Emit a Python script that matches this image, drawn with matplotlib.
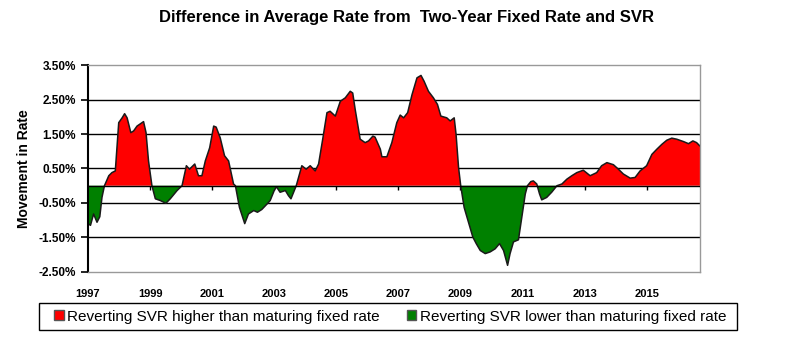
import numpy as np
import matplotlib
matplotlib.use("Agg")
import matplotlib.pyplot as plt
from matplotlib.patches import Patch, Rectangle

RED, GREEN = "#FF0000", "#008000"

# decimal year of each reading, and the difference in percentage points
years = [
    1997.00, 1997.08, 1997.18, 1997.29, 1997.38, 1997.45, 1997.53, 1997.67, 1997.77, 1997.88,
    1997.99, 1998.10, 1998.18, 1998.26, 1998.38, 1998.47, 1998.58, 1998.74, 1998.79, 1998.87,
    1998.95, 1999.06, 1999.17, 1999.33, 1999.51, 1999.65, 1999.87, 2000.03, 2000.17, 2000.27,
    2000.44, 2000.56, 2000.67, 2000.78, 2000.92, 2001.05, 2001.13, 2001.26, 2001.40, 2001.53,
    2001.69, 2001.75, 2001.88, 2002.05, 2002.17, 2002.34, 2002.46, 2002.60, 2002.77, 2002.87,
    2003.00, 2003.07, 2003.19, 2003.36, 2003.46, 2003.54, 2003.71, 2003.89, 2004.03, 2004.16,
    2004.32, 2004.43, 2004.57, 2004.70, 2004.80, 2004.97, 2005.13, 2005.29, 2005.45, 2005.53,
    2005.61, 2005.77, 2005.93, 2006.04, 2006.18, 2006.25, 2006.42, 2006.47, 2006.63, 2006.79,
    2006.95, 2007.06, 2007.17, 2007.30, 2007.44, 2007.60, 2007.73, 2007.83, 2007.97, 2008.13,
    2008.26, 2008.37, 2008.56, 2008.67, 2008.80, 2008.86, 2008.94, 2009.01, 2009.12, 2009.26,
    2009.40, 2009.51, 2009.64, 2009.80, 2009.96, 2010.12, 2010.26, 2010.39, 2010.52, 2010.60,
    2010.71, 2010.87, 2010.98, 2011.09, 2011.16, 2011.27, 2011.35, 2011.46, 2011.55, 2011.62,
    2011.78, 2011.94, 2012.11, 2012.27, 2012.43, 2012.59, 2012.75, 2012.96, 2013.18, 2013.39,
    2013.55, 2013.72, 2013.93, 2014.09, 2014.25, 2014.47, 2014.63, 2014.79, 2015.00, 2015.17,
    2015.33, 2015.49, 2015.65, 2015.81, 2015.97, 2016.19, 2016.35, 2016.49, 2016.61, 2016.72,
]
diff = [
    -1.10, -1.15, -0.82, -1.06, -0.90, -0.34, 0.00, 0.29, 0.38, 0.43,
    1.83, 1.97, 2.09, 1.97, 1.54, 1.59, 1.73, 1.83, 1.86, 1.54,
    0.72, 0.00, -0.38, -0.43, -0.51, -0.38, -0.14, 0.00, 0.58, 0.48,
    0.63, 0.29, 0.29, 0.72, 1.10, 1.73, 1.70, 1.39, 0.87, 0.72,
    0.05, 0.00, -0.63, -1.10, -0.82, -0.72, -0.77, -0.69, -0.53, -0.43,
    -0.14, -0.03, -0.19, -0.14, -0.29, -0.38, 0.00, 0.58, 0.48, 0.58,
    0.43, 0.63, 1.39, 2.12, 2.16, 2.02, 2.45, 2.55, 2.74, 2.69,
    2.21, 1.35, 1.25, 1.30, 1.44, 1.41, 1.06, 0.84, 0.84, 1.25,
    1.83, 2.05, 1.97, 2.12, 2.64, 3.13, 3.20, 3.03, 2.74, 2.55,
    2.36, 2.02, 1.97, 1.88, 1.97, 1.49, 0.53, 0.00, -0.63, -1.06,
    -1.49, -1.68, -1.88, -1.97, -1.92, -1.83, -1.68, -1.88, -2.31, -1.97,
    -1.63, -1.57, -0.91, -0.24, 0.00, 0.12, 0.14, 0.05, -0.24, -0.41,
    -0.34, -0.19, 0.00, 0.05, 0.19, 0.29, 0.38, 0.45, 0.29, 0.38,
    0.58, 0.67, 0.61, 0.48, 0.34, 0.22, 0.24, 0.43, 0.58, 0.91,
    1.06, 1.20, 1.32, 1.38, 1.35, 1.28, 1.22, 1.30, 1.25, 1.15,
]
y_ticks = [3.5, 2.5, 1.5, 0.5, -0.5, -1.5, -2.5]
x_ticks = [1997, 1999, 2001, 2003, 2005, 2007, 2009, 2011, 2013, 2015]
legend_labels = ["Reverting SVR higher than maturing fixed rate",
                 "Reverting SVR lower than maturing fixed rate"]

plt.rcParams["font.family"] = ["Liberation Sans", "DejaVu Sans"]

x = np.array(years)
y = np.array(diff)

fig = plt.figure(figsize=(8.0, 3.39), dpi=100)
ax = fig.add_axes([0.11, 0.198, 0.765, 0.61])

ax.fill_between(x, y, 0, where=y >= 0, interpolate=True, color=RED, lw=0)
ax.fill_between(x, y, 0, where=y <= 0, interpolate=True, color=GREEN, lw=0)
ax.plot(x, y, color="#1a1a1a", lw=1.1)

for v in y_ticks[1:-1]:
    ax.axhline(v, color="black", lw=1.0, zorder=0.5)
ax.axhline(0, color="black", lw=1.0, zorder=3)

ax.set_xlim(years[0], years[-1])
ax.set_ylim(-2.5, 3.5)
ax.set_yticks(y_ticks)
ax.set_yticklabels([f"{v:.2f}%" for v in y_ticks], fontsize=8.5, fontweight="bold")
ax.set_xticks(x_ticks)
ax.set_xticklabels([str(t) for t in x_ticks], fontsize=8, fontweight="bold")
ax.tick_params(axis="x", length=0, pad=12)
ax.tick_params(axis="y", length=5, width=1.2, direction="out")

# small year ticks hanging off the zero line
zx = ax.secondary_xaxis(0, transform=ax.transData)
zx.set_xticks(x_ticks)
zx.set_xticklabels([])
zx.tick_params(length=3, width=1.0, direction="out", color="black")
zx.spines["bottom"].set_visible(False)

ax.spines["left"].set_color("black")
ax.spines["left"].set_linewidth(1.5)
for s in ("top", "right", "bottom"):
    ax.spines[s].set_color("#999999")
    ax.spines[s].set_linewidth(1.0)

ax.set_ylabel("Movement in Rate", fontsize=10, fontweight="bold")
ax.yaxis.set_label_coords(-0.093, 0.5)

fig.suptitle("Difference in Average Rate from  Two-Year Fixed Rate and SVR",
             x=0.508, y=0.97, fontsize=12, fontweight="bold")

# legend: entries without frame, plus a plain black box round them
handles = [Patch(facecolor=RED, edgecolor="#555555"),
           Patch(facecolor=GREEN, edgecolor="#555555")]
fig.legend(handles, legend_labels, ncol=2, loc="center left",
           bbox_to_anchor=(0.068, 0.066), fontsize=11, frameon=False,
           borderaxespad=0, borderpad=0, handlelength=0.6, handleheight=0.6,
           handletextpad=0.25, columnspacing=1.75)
fig.patches.append(Rectangle((0.049, 0.0265), 0.8725, 0.0796, transform=fig.transFigure,
                             fill=False, edgecolor="black", lw=1.0))

fig.savefig("out.png", dpi=100)
